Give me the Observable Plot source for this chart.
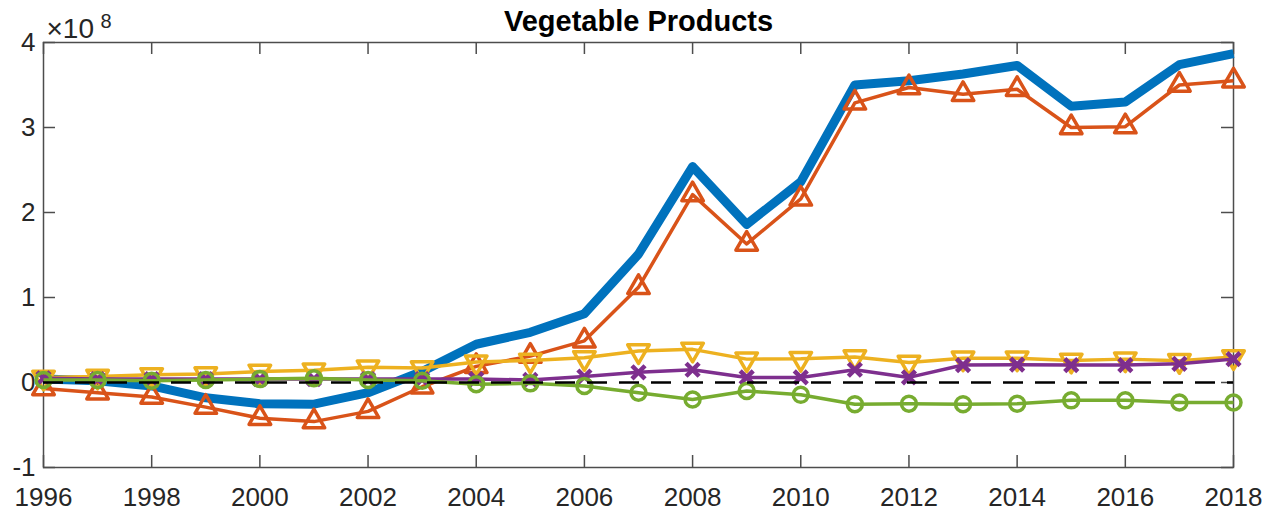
<!DOCTYPE html>
<html>
<head>
<meta charset="utf-8">
<script src="https://cdn.jsdelivr.net/npm/d3@7"></script>
<script src="https://cdn.jsdelivr.net/npm/@observablehq/plot@0.6"></script>
<style>
  body { margin: 0; background: #fff; }
  svg { display: block; }
</style>
</head>
<body>
<div id="chart"></div>
<script>
// ---- Data (values in units of 1e8) ----
const title = "Vegetable Products";
const exponentBase = "×10";
const exponentPower = "8";
const years = [1996, 1997, 1998, 1999, 2000, 2001, 2002, 2003, 2004, 2005, 2006, 2007,
               2008, 2009, 2010, 2011, 2012, 2013, 2014, 2015, 2016, 2017, 2018];
const xTicks = [1996, 1998, 2000, 2002, 2004, 2006, 2008, 2010, 2012, 2014, 2016, 2018];
const yTicks = [-1, 0, 1, 2, 3, 4];

const seriesTotal  = [0.04, 0.02, -0.04, -0.18, -0.25, -0.255, -0.12, 0.13, 0.45, 0.59, 0.81, 1.51,
                      2.54, 1.86, 2.36, 3.50, 3.55, 3.63, 3.73, 3.25, 3.30, 3.74, 3.87];
const seriesOrange = [-0.07, -0.12, -0.17, -0.29, -0.42, -0.46, -0.34, -0.05, 0.19, 0.31, 0.49, 1.12,
                      2.21, 1.63, 2.16, 3.29, 3.47, 3.39, 3.45, 3.00, 3.01, 3.50, 3.55];
const seriesYellow = [0.06, 0.07, 0.09, 0.10, 0.13, 0.145, 0.18, 0.17, 0.24, 0.26, 0.29, 0.37,
                      0.39, 0.275, 0.28, 0.30, 0.235, 0.285, 0.285, 0.26, 0.275, 0.255, 0.30];
const seriesPurple = [0.05, 0.04, 0.04, 0.04, 0.04, 0.04, 0.04, 0.04, 0.04, 0.03, 0.07, 0.12,
                      0.15, 0.06, 0.06, 0.15, 0.06, 0.205, 0.21, 0.205, 0.205, 0.22, 0.275];
const seriesGreen  = [0.03, 0.03, 0.02, 0.03, 0.04, 0.05, 0.03, 0.02, -0.02, -0.01, -0.04, -0.12,
                      -0.20, -0.10, -0.145, -0.255, -0.25, -0.255, -0.25, -0.21, -0.21, -0.235, -0.235];

// ---- Layout ----
const W = 1278, H = 512;
const mt = 42, mb = 45, ml = 43, mr = 45;
const frameH = H - mt - mb, frameW = W - ml - mr;
const tickLen = 12;
const axisColor = "#4d4d4d";
const textColor = "#262626";

const rows = vals => years.map((year, i) => ({year, value: vals[i]}));

const series = [
  {values: seriesTotal,  stroke: "#0072BD", width: 9},
  {values: seriesOrange, stroke: "#D95319", width: 3.5, symbol: "triangle", r: 8,   rotate: 0},
  {values: seriesYellow, stroke: "#EDB120", width: 3.5, symbol: "triangle", r: 8,   rotate: 180},
  {values: seriesPurple, stroke: "#7E2F8E", width: 3.5, symbol: "times",    r: 6,   rotate: 0, mw: 4.5},
  {values: seriesGreen,  stroke: "#77AC30", width: 3.5, symbol: "circle",   r: 7.5, rotate: 0}
];

const marks = [
  Plot.frame({stroke: axisColor, strokeWidth: 1.5}),
  Plot.ruleX(xTicks, {x: d => d, insetTop: frameH - tickLen, stroke: axisColor, strokeWidth: 1.5}),
  Plot.ruleX(xTicks, {x: d => d, insetBottom: frameH - tickLen, stroke: axisColor, strokeWidth: 1.5}),
  Plot.ruleY(yTicks, {y: d => d, insetRight: frameW - tickLen, stroke: axisColor, strokeWidth: 1.5}),
  Plot.ruleY(yTicks, {y: d => d, insetLeft: frameW - tickLen, stroke: axisColor, strokeWidth: 1.5}),
  Plot.axisX({ticks: xTicks, tickSize: 0, tickPadding: 20, tickFormat: d => String(d),
              fontSize: 26, fill: textColor, label: null}),
  Plot.axisY({ticks: yTicks, tickSize: 0, tickPadding: 8, tickFormat: d => String(d),
              fontSize: 26, fill: textColor, label: null})
];

for (const s of series) {
  const data = rows(s.values);
  marks.push(Plot.line(data, {x: "year", y: "value", stroke: s.stroke, strokeWidth: s.width,
                              strokeLinejoin: "round", strokeLinecap: "butt"}));
  if (s.symbol) {
    marks.push(Plot.dot(data, {x: "year", y: "value", symbol: s.symbol, r: s.r, rotate: s.rotate,
                               stroke: s.stroke, strokeWidth: s.mw || 3.5, fill: "none",
                               strokeLinejoin: "round"}));
  }
}

marks.push(Plot.ruleY([0], {stroke: "black", strokeWidth: 2.5, strokeDasharray: "20,12"}));

marks.push(Plot.text([title], {frameAnchor: "top", dy: -12, lineAnchor: "bottom",
                               fontSize: 29, fontWeight: "bold", fill: "black"}));
marks.push(Plot.text([exponentBase], {frameAnchor: "top-left", dx: 3, dy: -5, lineAnchor: "bottom",
                                      textAnchor: "start", fontSize: 28, fill: textColor}));
marks.push(Plot.text([exponentPower], {frameAnchor: "top-left", dx: 57, dy: -15, lineAnchor: "bottom",
                                       textAnchor: "start", fontSize: 20, fill: textColor}));

const chart = Plot.plot({
  width: W, height: H,
  marginTop: mt, marginBottom: mb, marginLeft: ml, marginRight: mr,
  style: {fontFamily: "'Liberation Sans', Arial, sans-serif", background: "#fff", overflow: "visible"},
  x: {domain: [1996, 2018]},
  y: {domain: [-1, 4]},
  marks
});
document.getElementById("chart").appendChild(chart);
</script>
</body>
</html>
